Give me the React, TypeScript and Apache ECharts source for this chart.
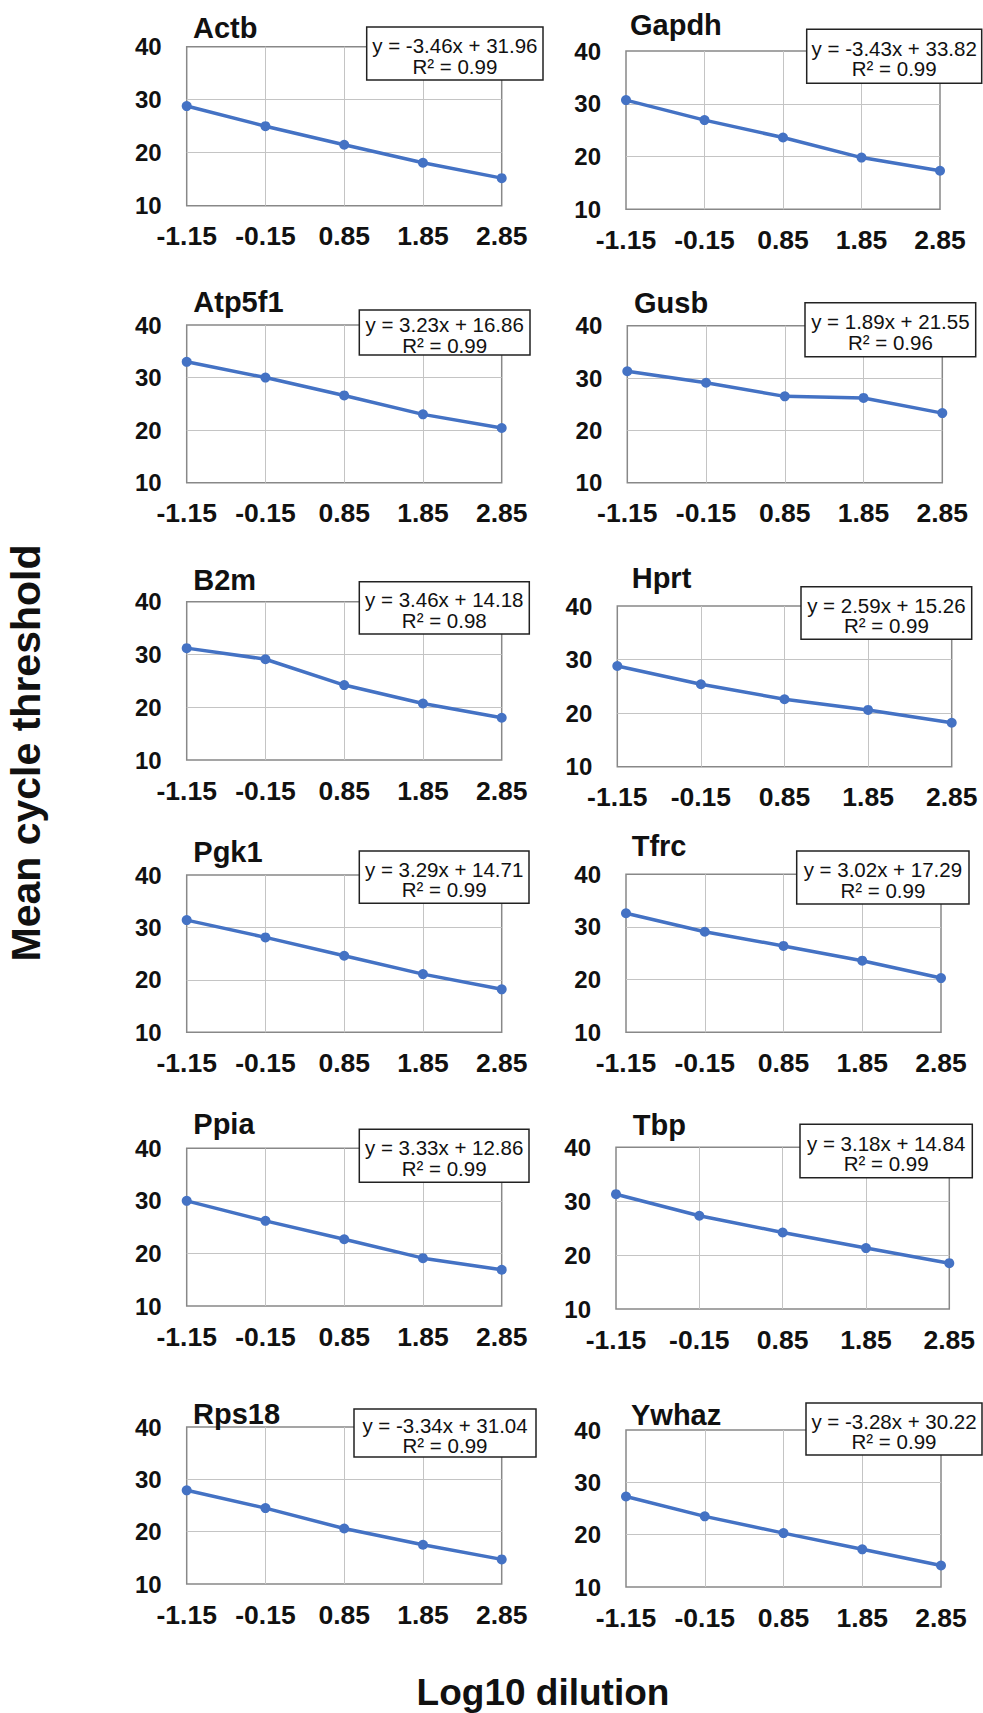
import React, { useEffect, useRef } from "react";
import * as echarts from "echarts";

// ---- data ----
const dilutions = ["-1.15", "-0.15", "0.85", "1.85", "2.85"];
const yTicks = [10, 20, 30, 40];
const genes = ["Actb", "Gapdh", "Atp5f1", "Gusb", "B2m", "Hprt", "Pgk1", "Tfrc", "Ppia", "Tbp", "Rps18", "Ywhaz"];

const actb = [28.8, 25.0, 21.5, 18.1, 15.2];
const gapdh = [30.7, 26.9, 23.6, 19.8, 17.3];
const atp5f1 = [33.0, 30.0, 26.6, 23.0, 20.4];
const gusb = [31.3, 29.1, 26.5, 26.2, 23.3];
const b2m = [31.2, 29.1, 24.2, 20.7, 18.0];
const hprt = [28.8, 25.4, 22.6, 20.6, 18.2];
const pgk1 = [31.4, 28.1, 24.6, 21.1, 18.2];
const tfrc = [32.6, 29.1, 26.4, 23.6, 20.3];
const ppia = [30.0, 26.2, 22.7, 19.1, 16.9];
const tbp = [31.3, 27.3, 24.2, 21.3, 18.5];
const rps18 = [27.9, 24.5, 20.6, 17.5, 14.7];
const ywhaz = [27.3, 23.5, 20.3, 17.2, 14.1];
const seriesValues = [actb, gapdh, atp5f1, gusb, b2m, hprt, pgk1, tfrc, ppia, tbp, rps18, ywhaz];

const equations = [
  "y = -3.46x + 31.96",
  "y = -3.43x + 33.82",
  "y = 3.23x + 16.86",
  "y = 1.89x + 21.55",
  "y = 3.46x + 14.18",
  "y = 2.59x + 15.26",
  "y = 3.29x + 14.71",
  "y = 3.02x + 17.29",
  "y = 3.33x + 12.86",
  "y = 3.18x + 14.84",
  "y = -3.34x + 31.04",
  "y = -3.28x + 30.22",
];
const rSquared = ["0.99", "0.99", "0.99", "0.96", "0.98", "0.99", "0.99", "0.99", "0.99", "0.99", "0.99", "0.99"];

const yAxisTitle = "Mean cycle threshold";
const xAxisTitle = "Log10 dilution";

// ---- layout (positions only) ----
// grid: [left, top, width, height]; title: [x, y]; box: [x1, y1, x2, y2]
const layout = [
  { grid: [186.7, 46.7, 315, 159], title: [193, 28], box: [366.7, 27, 543, 80] },
  { grid: [626, 51, 314, 158.3], title: [630, 25], box: [806.7, 29.3, 981.7, 83.3] },
  { grid: [186.7, 325, 315, 157.7], title: [193.3, 301.7], box: [359.3, 310, 530, 355] },
  { grid: [627.3, 325.7, 315, 157], title: [634, 302.5], box: [805, 302.7, 975.7, 356.7] },
  { grid: [186.7, 601.7, 315, 158.3], title: [193.3, 580], box: [359.3, 581.7, 529.3, 634] },
  { grid: [617.3, 606, 334.4, 160.7], title: [631.7, 578.3], box: [801, 586.7, 971.7, 639.3] },
  { grid: [186.7, 875, 315, 157.3], title: [193.3, 851.7], box: [359.3, 851, 529, 903.3] },
  { grid: [626, 874.3, 315, 158], title: [631.7, 845.8], box: [796.7, 851, 969, 904] },
  { grid: [186.7, 1148.3, 315, 157.7], title: [193.3, 1124], box: [359.3, 1129.3, 529, 1182.3] },
  { grid: [616, 1147.3, 333.3, 161.7], title: [632.7, 1125], box: [800, 1124.3, 972.3, 1177.7] },
  { grid: [186.7, 1427, 315, 157], title: [193, 1414], box: [354, 1409, 536, 1457] },
  { grid: [626, 1430, 315, 157], title: [631, 1415], box: [806, 1403, 982, 1455] },
];

const FONT = "'Liberation Sans', Arial, Helvetica, sans-serif";
const LINE_COLOR = "#4472C4";

function buildOption() {
  const grids: any[] = [];
  const xAxes: any[] = [];
  const yAxes: any[] = [];
  const series: any[] = [];
  const graphics: any[] = [];

  genes.forEach((gene, i) => {
    const L = layout[i];
    const [left, top, width, height] = L.grid;
    grids.push({
      left,
      top,
      width,
      height,
      show: true,
      borderColor: "#888888",
      borderWidth: 1.5,
      backgroundColor: "transparent",
      containLabel: false,
    });
    xAxes.push({
      type: "category",
      gridIndex: i,
      data: dilutions,
      boundaryGap: false,
      axisLine: { show: false },
      axisTick: { show: false },
      axisLabel: {
        interval: 0,
        margin: 17,
        color: "#111",
        fontSize: 26.5,
        fontWeight: "bold",
        fontFamily: FONT,
      },
      splitLine: {
        show: true,
        showMinLine: false,
        showMaxLine: false,
        lineStyle: { color: "#c4c4c4", width: 1 },
      },
    });
    yAxes.push({
      type: "value",
      gridIndex: i,
      min: yTicks[0],
      max: yTicks[yTicks.length - 1],
      interval: yTicks[1] - yTicks[0],
      axisLine: { show: false },
      axisTick: { show: false },
      axisLabel: {
        margin: 25,
        color: "#111",
        fontSize: 24,
        fontWeight: "bold",
        fontFamily: FONT,
      },
      splitLine: {
        show: true,
        showMinLine: false,
        showMaxLine: false,
        lineStyle: { color: "#c4c4c4", width: 1 },
      },
    });
    series.push({
      type: "line",
      name: gene,
      xAxisIndex: i,
      yAxisIndex: i,
      data: seriesValues[i],
      symbol: "circle",
      symbolSize: 10,
      lineStyle: { color: LINE_COLOR, width: 3.5 },
      itemStyle: { color: LINE_COLOR },
      z: 5,
    });

    // panel title
    graphics.push({
      type: "text",
      x: L.title[0],
      y: L.title[1],
      z: 100,
      style: {
        text: gene,
        fill: "#111",
        font: `bold 29px ${FONT}`,
        fontSize: 29,
        fontWeight: "bold",
        fontFamily: FONT,
        align: "left",
        verticalAlign: "middle",
        textAlign: "left",
        textVerticalAlign: "middle",
      },
    });

    // equation box
    const [x1, y1, x2, y2] = L.box;
    const cx = (x1 + x2) / 2;
    const cy = (y1 + y2) / 2;
    graphics.push({
      type: "rect",
      z: 100,
      shape: { x: x1, y: y1, width: x2 - x1, height: y2 - y1 },
      style: { fill: "#ffffff", stroke: "#222222", lineWidth: 1.5 },
    });
    graphics.push({
      type: "text",
      x: cx,
      y: cy - 8,
      z: 101,
      style: {
        text: equations[i],
        fill: "#111",
        font: `20.5px ${FONT}`,
        fontSize: 20.5,
        fontFamily: FONT,
        align: "center",
        verticalAlign: "middle",
        textAlign: "center",
        textVerticalAlign: "middle",
      },
    });
    graphics.push({
      type: "text",
      x: cx,
      y: cy + 12.5,
      z: 101,
      style: {
        text: `R² = ${rSquared[i]}`,
        fill: "#111",
        font: `20.5px ${FONT}`,
        fontSize: 20.5,
        fontFamily: FONT,
        align: "center",
        verticalAlign: "middle",
        textAlign: "center",
        textVerticalAlign: "middle",
      },
    });
  });

  // shared axis titles
  graphics.push({
    type: "text",
    x: 26,
    y: 753,
    rotation: Math.PI / 2,
    z: 100,
    style: {
      text: yAxisTitle,
      fill: "#111",
      font: `bold 41px ${FONT}`,
      fontSize: 41,
      fontWeight: "bold",
      fontFamily: FONT,
      align: "center",
      verticalAlign: "middle",
      textAlign: "center",
      textVerticalAlign: "middle",
    },
  });
  graphics.push({
    type: "text",
    x: 543,
    y: 1692,
    z: 100,
    style: {
      text: xAxisTitle,
      fill: "#111",
      font: `bold 37px ${FONT}`,
      fontSize: 37,
      fontWeight: "bold",
      fontFamily: FONT,
      align: "center",
      verticalAlign: "middle",
      textAlign: "center",
      textVerticalAlign: "middle",
    },
  });

  return {
    animation: false,
    backgroundColor: "#ffffff",
    grid: grids,
    xAxis: xAxes,
    yAxis: yAxes,
    series,
    graphic: { elements: graphics },
  };
}

export default function App() {
  const ref = useRef<HTMLDivElement | null>(null);
  useEffect(() => {
    if (!ref.current) return;
    const chart = echarts.init(ref.current, undefined, { renderer: "svg" });
    chart.setOption(buildOption() as any);
    return () => {
      chart.dispose();
    };
  }, []);
  return (
    <div
      ref={ref}
      style={{ position: "absolute", left: 0, top: 0, width: 983, height: 1713, background: "#fff" }}
    />
  );
}
